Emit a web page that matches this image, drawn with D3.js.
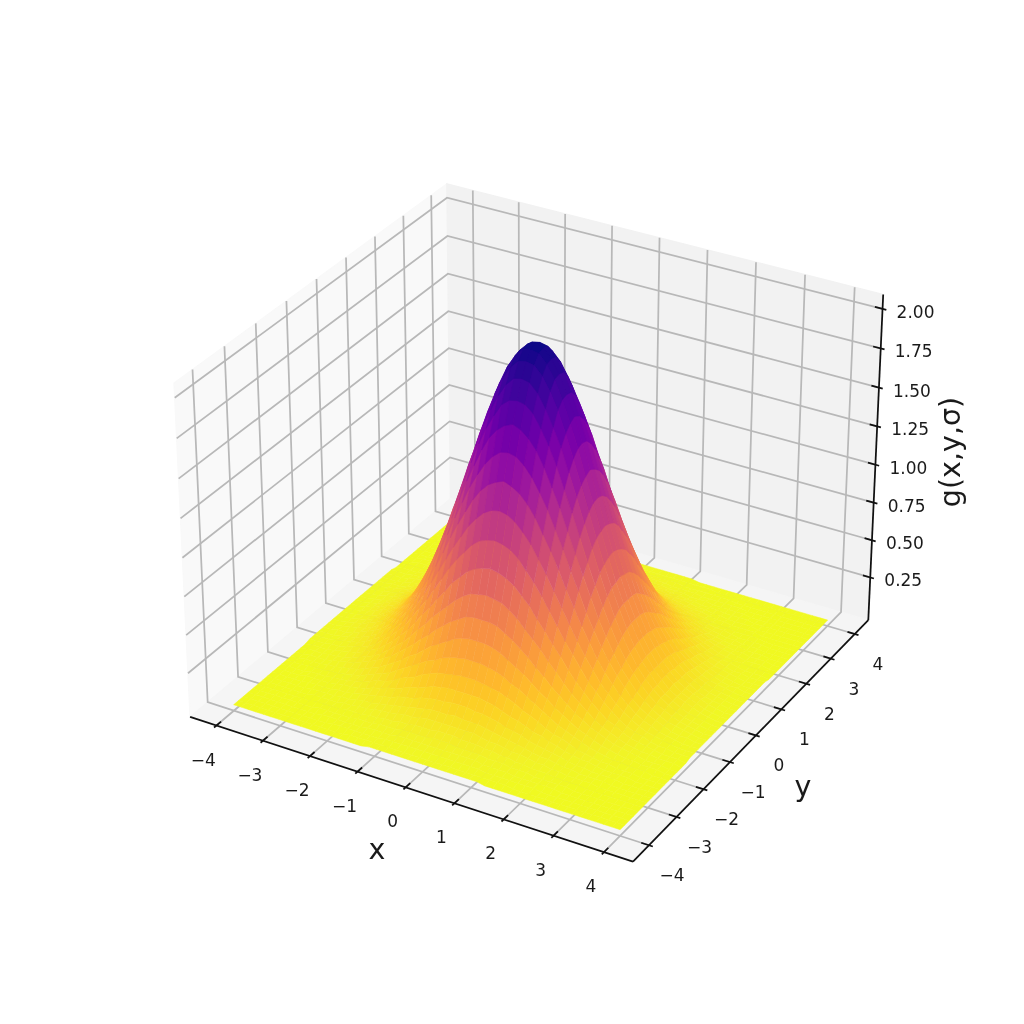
<!DOCTYPE html>
<html><head><meta charset="utf-8">
<script src="https://cdn.jsdelivr.net/npm/d3@7/dist/d3.min.js"></script>
<style>html,body{margin:0;padding:0;background:#fff}svg{display:block;filter:blur(0.45px)}text{font-family:"DejaVu Sans";fill:#1a1a1a}</style>
</head><body><svg id="c" width="1024" height="1024"></svg>
<script>
const xTicks=[-4,-3,-2,-1,0,1,2,3,4];
const yTicks=[-4,-3,-2,-1,0,1,2,3,4];
const zTicks=[0.25,0.5,0.75,1,1.25,1.5,1.75,2];
const zTickLabels=["0.25","0.50","0.75","1.00","1.25","1.50","1.75","2.00"];
const xLabel="x",yLabel="y",zLabel="g(x,y,σ)";
const xLim=[-4.57,4.57],yLim=[-4.57,4.57],zLim=[-0.04,2.09];
const gridStep=0.16;
const heightUnit=1.03; // calibration of the table below against the z axis
// heights read for one quadrant of the symmetric surface: row = |y| index, column = |x| index; omitted = 0
const heights=[
[2,1.98,1.93,1.85,1.74,1.62,1.47,1.32,1.16,1,.85,.71,.58,.47,.37,.29,.22,.17,.13,.09,.07,.05,.03,.02,.01,.01],
[1.98,1.97,1.92,1.84,1.73,1.6,1.46,1.3,1.15,.99,.84,.7,.58,.47,.37,.29,.22,.17,.12,.09,.07,.05,.03,.02,.01,.01],
[1.93,1.92,1.87,1.79,1.69,1.56,1.42,1.27,1.12,.97,.82,.69,.57,.46,.36,.28,.22,.16,.12,.09,.06,.04,.03,.02,.01,.01],
[1.85,1.84,1.79,1.71,1.61,1.5,1.36,1.22,1.07,.93,.79,.66,.54,.44,.35,.27,.21,.16,.12,.09,.06,.04,.03,.02,.01,.01],
[1.74,1.73,1.69,1.61,1.52,1.41,1.28,1.15,1.01,.87,.74,.62,.51,.41,.33,.26,.2,.15,.11,.08,.06,.04,.03,.02,.01,.01],
[1.62,1.6,1.56,1.5,1.41,1.3,1.19,1.06,.93,.81,.69,.57,.47,.38,.3,.24,.18,.14,.1,.07,.05,.04,.03,.02,.01,.01],
[1.47,1.46,1.42,1.36,1.28,1.19,1.08,.97,.85,.74,.62,.52,.43,.35,.28,.22,.16,.12,.09,.07,.05,.03,.02,.02,.01,.01],
[1.32,1.3,1.27,1.22,1.15,1.06,.97,.87,.76,.66,.56,.47,.38,.31,.25,.19,.15,.11,.08,.06,.04,.03,.02,.01,.01,.01],
[1.16,1.15,1.12,1.07,1.01,.93,.85,.76,.67,.58,.49,.41,.34,.27,.22,.17,.13,.1,.07,.05,.04,.03,.02,.01,.01,.01],
[1,.99,.97,.93,.87,.81,.74,.66,.58,.5,.43,.36,.29,.24,.19,.15,.11,.08,.06,.05,.03,.02,.02,.01,.01,.01],
[.85,.84,.82,.79,.74,.69,.62,.56,.49,.43,.36,.3,.25,.2,.16,.12,.1,.07,.05,.04,.03,.02,.01,.01,.01],
[.71,.7,.69,.66,.62,.57,.52,.47,.41,.36,.3,.25,.21,.17,.13,.1,.08,.06,.04,.03,.02,.02,.01,.01,.01],
[.58,.58,.57,.54,.51,.47,.43,.38,.34,.29,.25,.21,.17,.14,.11,.09,.07,.05,.04,.03,.02,.01,.01,.01],
[.47,.47,.46,.44,.41,.38,.35,.31,.27,.24,.2,.17,.14,.11,.09,.07,.05,.04,.03,.02,.02,.01,.01,.01],
[.37,.37,.36,.35,.33,.3,.28,.25,.22,.19,.16,.13,.11,.09,.07,.05,.04,.03,.02,.02,.01,.01,.01],
[.29,.29,.28,.27,.26,.24,.22,.19,.17,.15,.12,.1,.09,.07,.05,.04,.03,.02,.02,.01,.01,.01],
[.22,.22,.22,.21,.2,.18,.16,.15,.13,.11,.1,.08,.07,.05,.04,.03,.03,.02,.01,.01,.01,.01],
[.17,.17,.16,.16,.15,.14,.12,.11,.1,.08,.07,.06,.05,.04,.03,.02,.02,.01,.01,.01,.01],
[.13,.12,.12,.12,.11,.1,.09,.08,.07,.06,.05,.04,.04,.03,.02,.02,.01,.01,.01,.01],
[.09,.09,.09,.09,.08,.07,.07,.06,.05,.05,.04,.03,.03,.02,.02,.01,.01,.01,.01],
[.07,.07,.06,.06,.06,.05,.05,.04,.04,.03,.03,.02,.02,.02,.01,.01,.01,.01],
[.05,.05,.04,.04,.04,.04,.03,.03,.03,.02,.02,.02,.01,.01,.01,.01,.01],
[.03,.03,.03,.03,.03,.03,.02,.02,.02,.02,.01,.01,.01,.01,.01,.01],
[.02,.02,.02,.02,.02,.02,.02,.01,.01,.01,.01,.01,.01,.01],
[.01,.01,.01,.01,.01,.01,.01,.01,.01,.01,.01],
[.01,.01,.01,.01,.01,.01,.01,.01]
];

// matplotlib-style 3D camera
const aspect=[4,4,3],asn=Math.hypot(...aspect),box=aspect.map(a=>a*1.8294640721620434*25/24/asn);
const sx=d3.scaleLinear().domain(xLim).range([0,box[0]]),
      sy=d3.scaleLinear().domain(yLim).range([0,box[1]]),
      sz=d3.scaleLinear().domain(zLim).range([0,box[2]]);
const elev=30*Math.PI/180,az=-60*Math.PI/180,dist=10;
const R=box.map(b=>b/2);
const n=[Math.cos(elev)*Math.cos(az),Math.cos(elev)*Math.sin(az),Math.sin(elev)];
const E=R.map((r,i)=>r+dist*n[i]);
const un=Math.hypot(n[1],n[0]);
const u=[-n[1]/un,n[0]/un,0];
const v=[n[1]*u[2]-n[2]*u[1],n[2]*u[0]-n[0]*u[2],n[0]*u[1]-n[1]*u[0]];
const dot=(a,b)=>a[0]*b[0]+a[1]*b[1]+a[2]*b[2];
const px=d3.scaleLinear().domain([-0.095,0.09]).range([130.56,919.04]);
const py=d3.scaleLinear().domain([-0.095,0.09]).range([911.36,122.88]);
function cam(p){const w=[sx(p[0])-E[0],sy(p[1])-E[1],sz(p[2])-E[2]];return [dot(w,u),dot(w,v),dot(w,n)];}
function proj(p){const c=cam(p);return [px(c[0]/-c[2]),py(c[1]/-c[2])];}
const line=d3.line();
const svg=d3.select("#c");
const [x0,x1]=xLim,[y0,y1]=yLim,[z0,z1]=zLim;
const polyPath=pts=>line(pts.map(proj))+"Z";

// panes
const gAxes=svg.append("g");
[[[[x0,y0,z0],[x0,y1,z0],[x0,y1,z1],[x0,y0,z1]],"rgb(249,249,249)"],
 [[[x0,y1,z0],[x1,y1,z0],[x1,y1,z1],[x0,y1,z1]],"rgb(242,242,242)"],
 [[[x0,y0,z0],[x1,y0,z0],[x1,y1,z0],[x0,y1,z0]],"rgb(245,245,245)"]].forEach(([pts,c])=>{
  gAxes.append("path").attr("d",polyPath(pts)).attr("fill",c).attr("stroke",c).attr("stroke-width",1.4);
});
// grid
const grid=pts=>gAxes.append("path").attr("d",line(pts.map(proj))).attr("fill","none").attr("stroke","#b8b8b8").attr("stroke-width",1.75);
xTicks.forEach(t=>grid([[t,y0,z0],[t,y1,z0],[t,y1,z1]]));
yTicks.forEach(t=>grid([[x1,t,z0],[x0,t,z0],[x0,t,z1]]));
zTicks.forEach(t=>grid([[x0,y0,t],[x0,y1,t],[x1,y1,t]]));
// axis lines + ticks
const ink=(pts,w)=>gAxes.append("path").attr("d",line(pts.map(proj))).attr("fill","none").attr("stroke","#111").attr("stroke-width",w);
ink([[x0,y0,z0],[x1,y0,z0]],1.75);
ink([[x1,y0,z0],[x1,y1,z0]],1.75);
ink([[x1,y1,z0],[x1,y1,z1]],1.75);
const dy=(y1-y0)/12,dx=(x1-x0)/12;
const tickLab=(p,t,ox,oy)=>{const q=proj(p);gAxes.append("text").attr("x",q[0]+ox).attr("y",q[1]+oy)
  .attr("text-anchor","middle").attr("dominant-baseline","central").attr("font-size",17).text(t);};
const fmt=t=>String(t).replace("-","\u2212");
xTicks.forEach(t=>{ink([[t,y0-0.1*dy,z0],[t,y0+0.2*dy,z0]],1.75);tickLab([t,y0,z0],fmt(t),-13,34);});
yTicks.forEach(t=>{ink([[x1+0.1*dx,t,z0],[x1-0.2*dx,t,z0]],1.75);tickLab([x1,t,z0],fmt(t),23,30);});
zTicks.forEach((t,i)=>{ink([[x1+0.1*dx,y1,t],[x1-0.2*dx,y1,t]],1.75);tickLab([x1,y1,t],zTickLabels[i],33,3);});

// surface
const N=2*(heights.length-1)+1,mid=heights.length-1;
const coord=i=>(i-mid)*gridStep;
const hAt=(i,j)=>(heights[Math.abs(j-mid)][Math.abs(i-mid)]??0)*heightUnit;
const cells=[];
for(let j=0;j<N-1;j++)for(let i=0;i<N-1;i++){
  const pts=[[i,j],[i+1,j],[i+1,j+1],[i,j+1]].map(([a,b])=>[coord(a),coord(b),hAt(a,b)]);
  cells.push({pts,z:d3.mean(pts,p=>p[2]),depth:d3.mean(pts,p=>cam(p)[2])});
}
cells.sort((a,b)=>d3.ascending(a.depth,b.depth));
const color=d3.scaleSequential(t=>d3.interpolatePlasma(1-t)).domain(d3.extent(cells,c=>c.z));
svg.append("g").selectAll("path").data(cells).join("path")
  .attr("d",c=>polyPath(c.pts)).attr("fill",c=>color(c.z))
  .attr("stroke",c=>color(c.z)).attr("stroke-width",0.5).attr("stroke-linejoin","round");

// axis titles
const title=(x,y,t,rot)=>svg.append("text").attr("transform",`translate(${x},${y})`+(rot?` rotate(${rot})`:""))
  .attr("text-anchor","middle").attr("dominant-baseline","central").attr("font-size",28.5).text(t);
title(377,849,xLabel);title(803,786,yLabel);title(950,452,zLabel,-90);
</script></body></html>
